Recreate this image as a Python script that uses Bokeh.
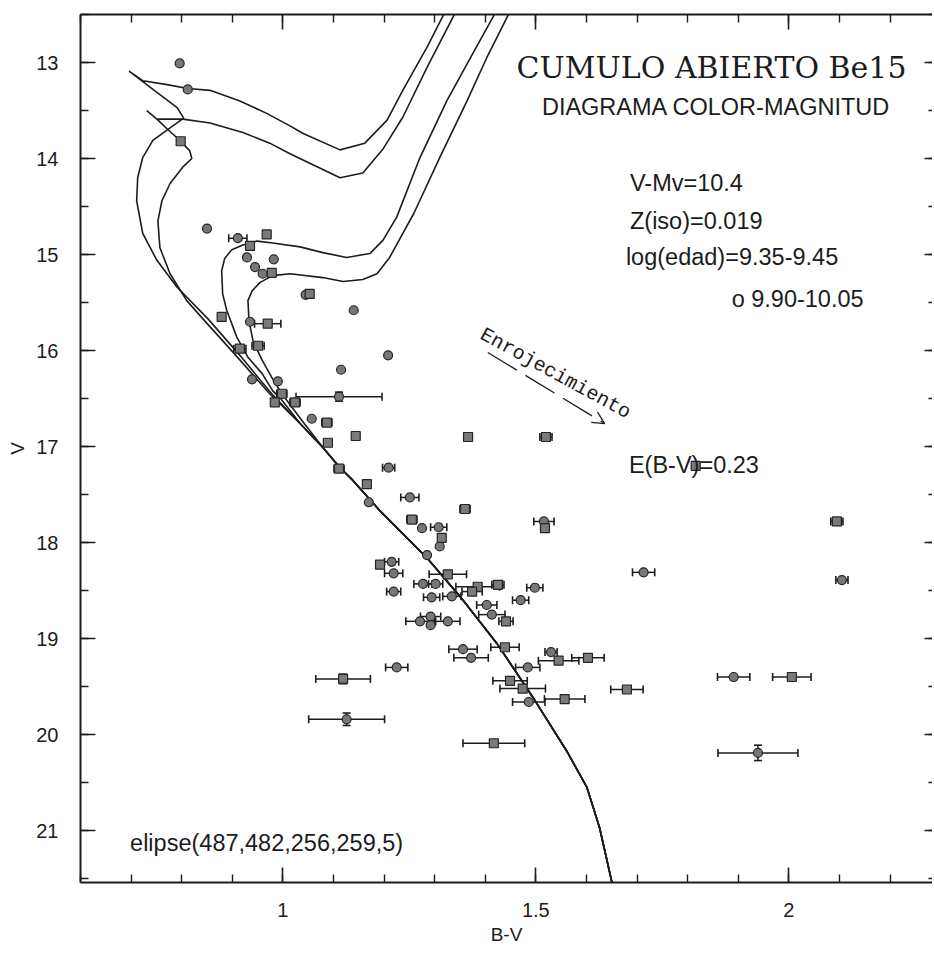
import numpy as np
from bokeh.plotting import figure
from bokeh.models import (ColumnDataSource, Whisker, TeeHead, Label, Arrow, OpenHead,
                          LinearAxis, SingleIntervalTicker, Range1d, CustomJSTickFormatter)
from bokeh.embed import file_html
from bokeh.resources import INLINE

# ---------------- isochrones (B-V, V) ----------------
ms_bv = [1.653, 1.626, 1.601, 1.561, 1.494, 1.423, 1.350, 1.285, 1.192, 1.138, 1.113, 1.079]
ms_v = [21.60, 20.97, 20.55, 20.17, 19.61, 19.05, 18.56, 18.16, 17.67, 17.35, 17.22, 17.01]

iso1_bv = [1.034, 0.978, 0.915, 0.852, 0.791, 0.751, 0.723, 0.711, 0.713, 0.723, 0.743, 0.777, 0.804,
           0.791, 0.751, 0.696, 0.723, 0.771, 0.812, 0.856, 0.915, 0.968, 1.014, 1.040, 1.113, 1.162,
           1.206, 1.237, 1.285, 1.314, 1.324]
iso1_v = [16.76, 16.45, 16.05, 15.67, 15.34, 15.06, 14.78, 14.44, 14.20, 13.99, 13.81, 13.68, 13.58,
          13.47, 13.31, 13.09, 13.19, 13.23, 13.27, 13.29, 13.40, 13.53, 13.66, 13.74, 13.91, 13.84,
          13.60, 13.29, 12.84, 12.54, 12.44]

iso2_bv = [1.034, 0.974, 0.907, 0.842, 0.810, 0.777, 0.757, 0.753, 0.761, 0.777, 0.802, 0.820, 0.816,
           0.796, 0.771, 0.751, 0.731, 0.751, 0.802, 0.856, 0.921, 0.974, 1.014, 1.113, 1.158, 1.198,
           1.237, 1.285, 1.336, 1.345]
iso2_v = [16.76, 16.45, 16.05, 15.67, 15.48, 15.20, 14.93, 14.65, 14.44, 14.26, 14.09, 14.00, 13.92,
          13.81, 13.69, 13.59, 13.50, 13.59, 13.59, 13.63, 13.73, 13.84, 13.95, 14.20, 14.15, 13.90,
          13.57, 13.05, 12.53, 12.44]

iso3_bv = [1.034, 0.994, 0.980, 0.959, 0.931, 0.909, 0.889, 0.881, 0.879, 0.885, 0.899, 0.921, 0.949,
           0.980, 1.034, 1.079, 1.126, 1.172, 1.198, 1.225, 1.271, 1.324, 1.375, 1.415, 1.423]
iso3_v = [16.76, 16.49, 16.42, 16.24, 16.07, 15.86, 15.58, 15.41, 15.17, 15.04, 14.95, 14.90, 14.86,
          14.88, 14.92, 14.98, 15.03, 14.99, 14.85, 14.61, 13.99, 13.40, 12.91, 12.53, 12.44]

iso4_bv = [1.038, 0.998, 0.978, 0.959, 0.941, 0.933, 0.931, 0.939, 0.955, 0.980, 1.014, 1.079, 1.119,
           1.158, 1.186, 1.211, 1.235, 1.259, 1.310, 1.364, 1.403, 1.443, 1.451]
iso4_v = [16.73, 16.45, 16.28, 16.10, 15.90, 15.69, 15.48, 15.38, 15.29, 15.22, 15.20, 15.24, 15.28,
          15.26, 15.20, 15.03, 14.80, 14.57, 13.99, 13.40, 12.95, 12.53, 12.44]

# ---------------- stars ----------------
circ_bv = [0.796, 0.812, 0.850, 0.911, 0.929, 0.982, 0.945, 0.960, 1.045, 1.140, 0.935, 1.208, 1.115,
           0.939, 0.990, 1.111, 1.057, 1.209, 1.170, 1.251, 1.516, 1.275, 1.308, 1.310, 1.285, 1.215,
           1.219, 1.277, 1.302, 1.334, 1.294, 1.219, 1.498, 1.470, 1.403, 1.413, 1.292, 1.292, 1.271,
           1.326, 1.356, 1.372, 1.530, 1.484, 1.225, 1.486, 1.126, 1.713, 2.105, 1.891, 1.939]
circ_v = [13.01, 13.28, 14.73, 14.83, 15.03, 15.05, 15.13, 15.20, 15.42, 15.58, 15.70, 16.05, 16.20,
          16.30, 16.32, 16.48, 16.71, 17.22, 17.58, 17.53, 17.78, 17.85, 17.84, 18.04, 18.13, 18.20,
          18.32, 18.43, 18.43, 18.56, 18.57, 18.51, 18.47, 18.60, 18.65, 18.75, 18.77, 18.86, 18.82,
          18.82, 19.11, 19.20, 19.14, 19.30, 19.30, 19.66, 19.84, 18.31, 18.39, 19.40, 20.19]
circ_ebv = [0, 0, 0, 0.018, 0, 0, 0, 0, 0, 0, 0, 0, 0,
            0, 0, 0.085, 0, 0.012, 0, 0.018, 0.020, 0, 0.016, 0, 0, 0.014,
            0.018, 0.018, 0.014, 0.018, 0.016, 0.014, 0.016, 0.016, 0.020, 0.026, 0.020, 0, 0.028,
            0.024, 0.028, 0.034, 0.012, 0.024, 0.022, 0.032, 0.075, 0.022, 0.012, 0.032, 0.079]
circ_ev = [0, 0, 0, 0, 0, 0, 0, 0, 0, 0, 0, 0, 0,
           0, 0, 0.047, 0, 0, 0, 0, 0, 0, 0, 0, 0, 0,
           0, 0, 0, 0, 0, 0, 0, 0, 0, 0, 0, 0, 0,
           0, 0, 0, 0, 0, 0, 0, 0.065, 0, 0, 0, 0.080]

sq_bv = [0.798, 0.968, 0.935, 0.978, 1.053, 0.879, 0.970, 0.915, 0.951, 0.998, 0.984, 1.024, 1.087,
         1.144, 1.089, 1.111, 1.366, 1.520, 1.166, 1.360, 1.518, 1.255, 1.314, 1.192, 1.326, 1.385,
         1.425, 1.374, 1.441, 1.439, 1.545, 1.603, 1.119, 1.449, 1.474, 1.557, 1.417, 1.816, 2.095,
         1.680, 2.006]
sq_v = [13.82, 14.79, 14.91, 15.19, 15.41, 15.65, 15.72, 15.98, 15.95, 16.45, 16.54, 16.54, 16.75,
        16.89, 16.96, 17.23, 16.90, 16.90, 17.39, 17.65, 17.85, 17.76, 17.95, 18.23, 18.33, 18.46,
        18.44, 18.51, 18.82, 19.09, 19.23, 19.20, 19.42, 19.44, 19.52, 19.63, 20.09, 17.20, 17.78,
        19.53, 19.40]
sq_ebv = [0, 0, 0.008, 0, 0, 0, 0.026, 0.012, 0.012, 0.010, 0, 0.010, 0.010,
          0, 0, 0.010, 0, 0.012, 0, 0.010, 0, 0.010, 0, 0, 0.037, 0.043,
          0.012, 0.020, 0.014, 0.028, 0.040, 0.032, 0.054, 0.034, 0.045, 0.040, 0.061, 0, 0.012,
          0.032, 0.038]
sq_ev = [0, 0, 0, 0, 0, 0, 0, 0, 0, 0, 0, 0, 0,
         0, 0, 0, 0, 0, 0, 0, 0, 0, 0, 0, 0, 0,
         0, 0, 0, 0, 0, 0, 0.050, 0, 0, 0, 0, 0, 0,
         0, 0]

ink = "#1c1c1c"
sans = "Liberation Sans"

p = figure(width=932, height=952, x_range=Range1d(0.6, 2.284), y_range=Range1d(21.54, 12.5),
           output_backend="svg", toolbar_location=None,
           min_border_left=80, min_border_right=0, min_border_top=14, min_border_bottom=70,
           x_axis_label="B-V", y_axis_label="V")
p.background_fill_color = "white"
p.border_fill_color = "white"
p.outline_line_color = None
p.xgrid.visible = False
p.ygrid.visible = False

def style_axis(ax, labels=True):
    ax.axis_line_color = ink
    ax.axis_line_width = 2
    ax.major_tick_line_color = ink
    ax.minor_tick_line_color = ink
    ax.major_tick_line_width = 1.6
    ax.minor_tick_line_width = 1.4
    ax.major_tick_in = 15
    ax.major_tick_out = 0
    ax.minor_tick_in = 8
    ax.minor_tick_out = 0
    if not labels:
        ax.formatter = CustomJSTickFormatter(code="return '';")
        ax.major_label_text_font_size = "0px"
        ax.major_label_standoff = 0
        ax.axis_label = None

xa = p.xaxis[0]
xa.ticker = SingleIntervalTicker(interval=0.5, num_minor_ticks=5)
xa.formatter = CustomJSTickFormatter(code="return String(Math.round(tick*10)/10);")
style_axis(xa)
xa.major_label_text_font = sans
xa.major_label_text_font_size = "20px"
xa.major_label_text_color = ink
xa.major_label_standoff = 20
xa.axis_label_text_font = sans
xa.axis_label_text_font_size = "19px"
xa.axis_label_text_font_style = "normal"
xa.axis_label_text_color = ink
xa.axis_label_standoff = 4

ya = p.yaxis[0]
ya.ticker = SingleIntervalTicker(interval=1, num_minor_ticks=2)
style_axis(ya)
ya.major_label_text_font = sans
ya.major_label_text_font_size = "20px"
ya.major_label_text_color = ink
ya.major_label_standoff = 22
ya.axis_label_text_font = sans
ya.axis_label_text_font_size = "19px"
ya.axis_label_text_font_style = "normal"
ya.axis_label_text_color = ink
ya.axis_label_standoff = 5

top = LinearAxis(ticker=SingleIntervalTicker(interval=0.5, num_minor_ticks=5))
style_axis(top, labels=False)
p.add_layout(top, "above")

right = LinearAxis(ticker=SingleIntervalTicker(interval=1, num_minor_ticks=2))
style_axis(right, labels=False)
right.axis_line_color = None
right.major_tick_in = 8
right.minor_tick_in = 4
p.add_layout(right, "right")

# isochrones
for bv_up, v_up in [(iso1_bv, iso1_v), (iso2_bv, iso2_v), (iso3_bv, iso3_v), (iso4_bv, iso4_v)]:
    p.line(ms_bv + bv_up, ms_v + v_up, line_color=ink, line_width=1.6)

# error bars
def add_errors(bv, v, ebv, ev):
    bv = np.array(bv); v = np.array(v); ebv = np.array(ebv); ev = np.array(ev)
    m = ebv > 0
    hs = ColumnDataSource(dict(base=v[m], lower=bv[m] - ebv[m], upper=bv[m] + ebv[m]))
    p.add_layout(Whisker(source=hs, base="base", lower="lower", upper="upper", dimension="width",
                         line_color=ink, line_width=1.5,
                         lower_head=TeeHead(size=8, line_color=ink, line_width=1.6),
                         upper_head=TeeHead(size=8, line_color=ink, line_width=1.6)))
    mv = ev > 0
    vs = ColumnDataSource(dict(base=bv[mv], lower=v[mv] - ev[mv], upper=v[mv] + ev[mv]))
    p.add_layout(Whisker(source=vs, base="base", lower="lower", upper="upper", dimension="height",
                         line_color=ink, line_width=1.5,
                         lower_head=TeeHead(size=8, line_color=ink, line_width=1.6),
                         upper_head=TeeHead(size=8, line_color=ink, line_width=1.6)))

add_errors(circ_bv, circ_v, circ_ebv, circ_ev)
add_errors(sq_bv, sq_v, sq_ebv, sq_ev)

p.scatter(circ_bv, circ_v, marker="circle", size=9, fill_color="#777777", line_color="#262626",
          line_width=1.2)
p.scatter(sq_bv, sq_v, marker="square", size=9, fill_color="#7a7a7a", line_color="#262626",
          line_width=1.2)

# texts
def lab(x, y, text, font=sans, size="23.5px", angle=0.0):
    p.add_layout(Label(x=x, y=y, text=text, text_font=font, text_font_size=size,
                       text_color=ink, text_align="left", text_baseline="alphabetic",
                       angle=angle))

lab(1.462, 13.05, "CUMULO ABIERTO Be15", font="DejaVu Serif", size="30px")
lab(1.512, 13.46, "DIAGRAMA COLOR-MAGNITUD")
lab(1.686, 14.26, "V-Mv=10.4")
lab(1.686, 14.65, "Z(iso)=0.019")
lab(1.678, 15.03, "log(edad)=9.35-9.45")
lab(1.887, 15.46, "o 9.90-10.05")
lab(1.684, 17.19, "E(B-V)=0.23")
lab(0.698, 21.125, "elipse(487,482,256,259,5)")
lab(1.393, 15.82, "Enrojecimiento", font="Liberation Mono", size="20px", angle=-0.5)

p.add_layout(Arrow(end=OpenHead(size=12, line_color=ink, line_width=1.3),
                   x_start=1.405, y_start=16.02, x_end=1.636, y_end=16.76,
                   line_color=ink, line_width=1.3, line_dash="34 10"))

open("out.html", "w").write(file_html(p, INLINE))
